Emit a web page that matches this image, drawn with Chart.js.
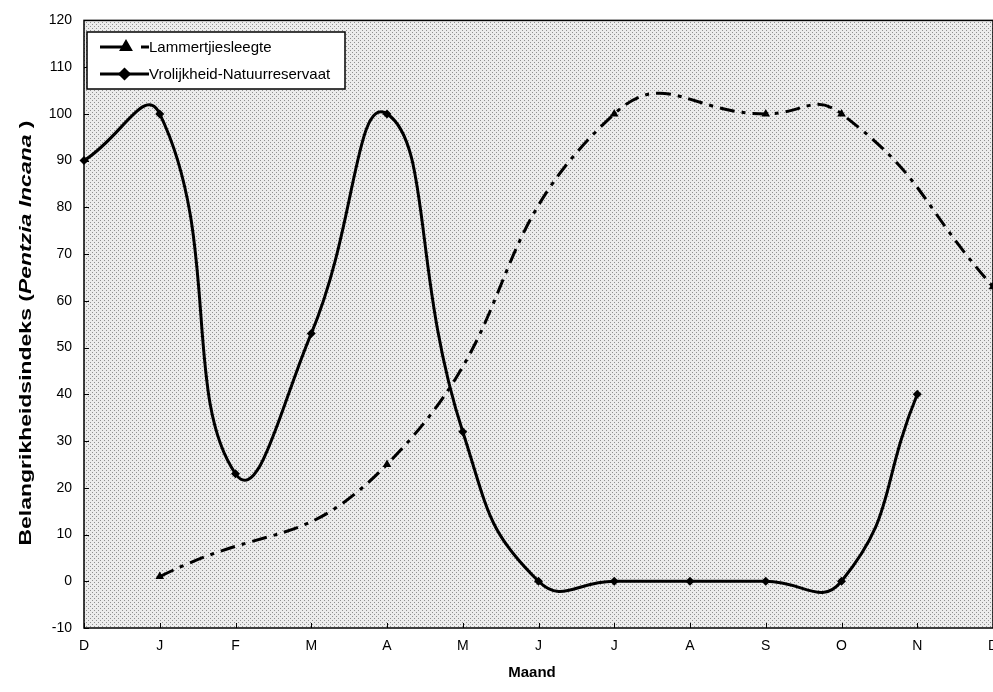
<!DOCTYPE html>
<html>
<head>
<meta charset="utf-8">
<script src="https://cdn.jsdelivr.net/npm/chart.js@4.4.1/dist/chart.umd.min.js"></script>
<style>
  html, body { margin: 0; padding: 0; background: #fff; overflow: hidden; }
  canvas { display: block; }
</style>
</head>
<body>
<canvas id="seasonChart" width="993" height="692"></canvas>
<script>
// Months along the x axis (Dec to Dec)
const months = ['D', 'J', 'F', 'M', 'A', 'M', 'J', 'J', 'A', 'S', 'O', 'N', 'D'];

// Importance index of Pentzia incana per site (null = no sample that month)
const lammertjiesleegte = [null, 1, null, null, 25, null, null, 100, null, 100, 100, null, 63];
const vrolijkheid = [90, 100, 23, 53, 100, 32, 0, 0, 0, 0, 0, 40, null];

const seriesNames = ['Lammertjiesleegte', 'Vrolijkheid-Natuurreservaat'];

// Y axis range
const yMin = -10;
const yMax = 120;
const yStep = 10;

const fontFamily = "'Liberation Sans', Arial, sans-serif";

// Stippled grey background of the plot area
const patternCanvas = document.createElement('canvas');
patternCanvas.width = 4;
patternCanvas.height = 4;
const pctx = patternCanvas.getContext('2d');
pctx.fillStyle = '#ececec';
pctx.fillRect(0, 0, 4, 4);
pctx.fillStyle = '#909090';
pctx.fillRect(0, 0, 1, 1);
pctx.fillRect(2, 2, 1, 1);

// Draw a little legend sample (line + marker)
function drawSample(ctx, ds, x0, x1, y) {
    const dashed = ds.borderDash && ds.borderDash.length;
    ctx.save();
    ctx.strokeStyle = '#000';
    ctx.lineWidth = 3;
    ctx.beginPath();
    if (dashed) {
        // solid part, marker, then a short dash like the original
        ctx.moveTo(x0, y);
        ctx.lineTo(x0 + 24, y);
        ctx.moveTo(x1 - 8, y);
        ctx.lineTo(x1, y);
    } else {
        ctx.moveTo(x0, y);
        ctx.lineTo(x1, y);
    }
    ctx.stroke();
    const mx = dashed ? x0 + 26 : (x0 + x1) / 2;
    Chart.helpers.drawPoint(ctx, {
        pointStyle: ds.pointStyle,
        radius: ds.pointRadius,
        rotation: 0,
        borderWidth: 1
    }, mx, y);
    ctx.fillStyle = '#000';
    ctx.fill();
    ctx.restore();
}

const plotDecor = {
    id: 'plotDecor',
    beforeDraw(chart) {
        const { ctx, chartArea: a } = chart;
        ctx.save();
        ctx.fillStyle = ctx.createPattern(patternCanvas, 'repeat');
        ctx.fillRect(a.left, a.top, a.right - a.left, a.bottom - a.top);
        ctx.restore();
    },
    afterDraw(chart) {
        const { ctx, chartArea: a } = chart;
        const xs = chart.scales.x;
        const ys = chart.scales.y;
        ctx.save();

        // frame round the plot
        ctx.strokeStyle = '#000';
        ctx.lineWidth = 1.5;
        ctx.strokeRect(a.left, a.top, a.right - a.left, a.bottom - a.top);

        // inner tick marks
        ctx.lineWidth = 1;
        ctx.beginPath();
        months.forEach((m, i) => {
            const x = Math.round(xs.getPixelForValue(i)) + 0.5;
            ctx.moveTo(x, a.bottom);
            ctx.lineTo(x, a.bottom - 5);
        });
        for (let v = yMin; v <= yMax; v += yStep) {
            const y = Math.round(ys.getPixelForValue(v)) + 0.5;
            ctx.moveTo(a.left, y);
            ctx.lineTo(a.left + 5, y);
        }
        ctx.stroke();

        // legend box inside the plot
        const lx = 87, ly = 32, lw = 258, lh = 57;
        ctx.fillStyle = '#fff';
        ctx.fillRect(lx, ly, lw, lh);
        ctx.lineWidth = 1.5;
        ctx.strokeRect(lx, ly, lw, lh);
        ctx.font = '15px ' + fontFamily;
        ctx.textBaseline = 'middle';
        const rows = [47, 74];
        chart.data.datasets.forEach((ds, i) => {
            drawSample(ctx, ds, 100, 149, rows[i]);
            ctx.fillStyle = '#000';
            ctx.fillText(ds.label, 149, rows[i] + 1);
        });

        // x axis title
        ctx.font = 'bold 15px ' + fontFamily;
        ctx.textAlign = 'center';
        ctx.fillText('Maand', 532, 673);

        // y axis title with italic species name, stretched along the axis
        const parts = [
            { t: 'Belangrikheidsindeks (', f: 'bold 15px ' + fontFamily },
            { t: 'Pentzia Incana', f: 'italic bold 15px ' + fontFamily },
            { t: ' )', f: 'bold 15px ' + fontFamily }
        ];
        let total = 0;
        parts.forEach(p => { ctx.font = p.f; p.w = ctx.measureText(p.t).width; total += p.w; });
        const span = 425;
        ctx.translate(27, 333);
        ctx.rotate(-Math.PI / 2);
        ctx.scale(span / total, 1.05);
        ctx.textAlign = 'left';
        let px = -total / 2;
        parts.forEach(p => { ctx.font = p.f; ctx.fillText(p.t, px, 0); px += p.w; });

        ctx.restore();
    }
};

const ctx = document.getElementById('seasonChart').getContext('2d');
const seasonChart = new Chart(ctx, {
    type: 'line',
    data: {
        labels: months,
        datasets: [{
            label: seriesNames[0],
            data: lammertjiesleegte,
            borderColor: '#000',
            backgroundColor: '#000',
            borderWidth: 3,
            borderDash: [15, 7, 4, 7],
            pointStyle: 'triangle',
            pointRadius: 5,
            pointBorderWidth: 0,
            tension: 0.5,
            spanGaps: true,
            clip: 8
        }, {
            label: seriesNames[1],
            data: vrolijkheid,
            borderColor: '#000',
            backgroundColor: '#000',
            borderWidth: 3,
            pointStyle: 'rectRot',
            pointRadius: 4.5,
            pointBorderWidth: 0,
            tension: 0.5,
            spanGaps: false,
            clip: 8
        }]
    },
    options: {
        responsive: false,
        animation: false,
        layout: {
            autoPadding: false,
            padding: { top: 17, right: 0, bottom: 0, left: 0 }
        },
        plugins: {
            legend: { display: false },
            tooltip: { enabled: false }
        },
        scales: {
            x: {
                offset: false,
                grid: { display: false, drawTicks: false },
                border: { display: false },
                ticks: {
                    color: '#000',
                    padding: 10,
                    maxRotation: 0,
                    autoSkip: false,
                    font: { family: fontFamily, size: 14 }
                },
                afterFit: s => {
                    s.height = 64;
                    // let the last "D" run off the edge like the original
                    s.paddingLeft = 0;
                    s.paddingRight = 0;
                }
            },
            y: {
                min: yMin,
                max: yMax,
                grid: { display: false, drawTicks: false },
                border: { display: false },
                ticks: {
                    stepSize: yStep,
                    color: '#000',
                    padding: 12,
                    font: { family: fontFamily, size: 14 }
                },
                afterFit: s => { s.width = 84; }
            }
        }
    },
    plugins: [plotDecor]
});
</script>
</body>
</html>
